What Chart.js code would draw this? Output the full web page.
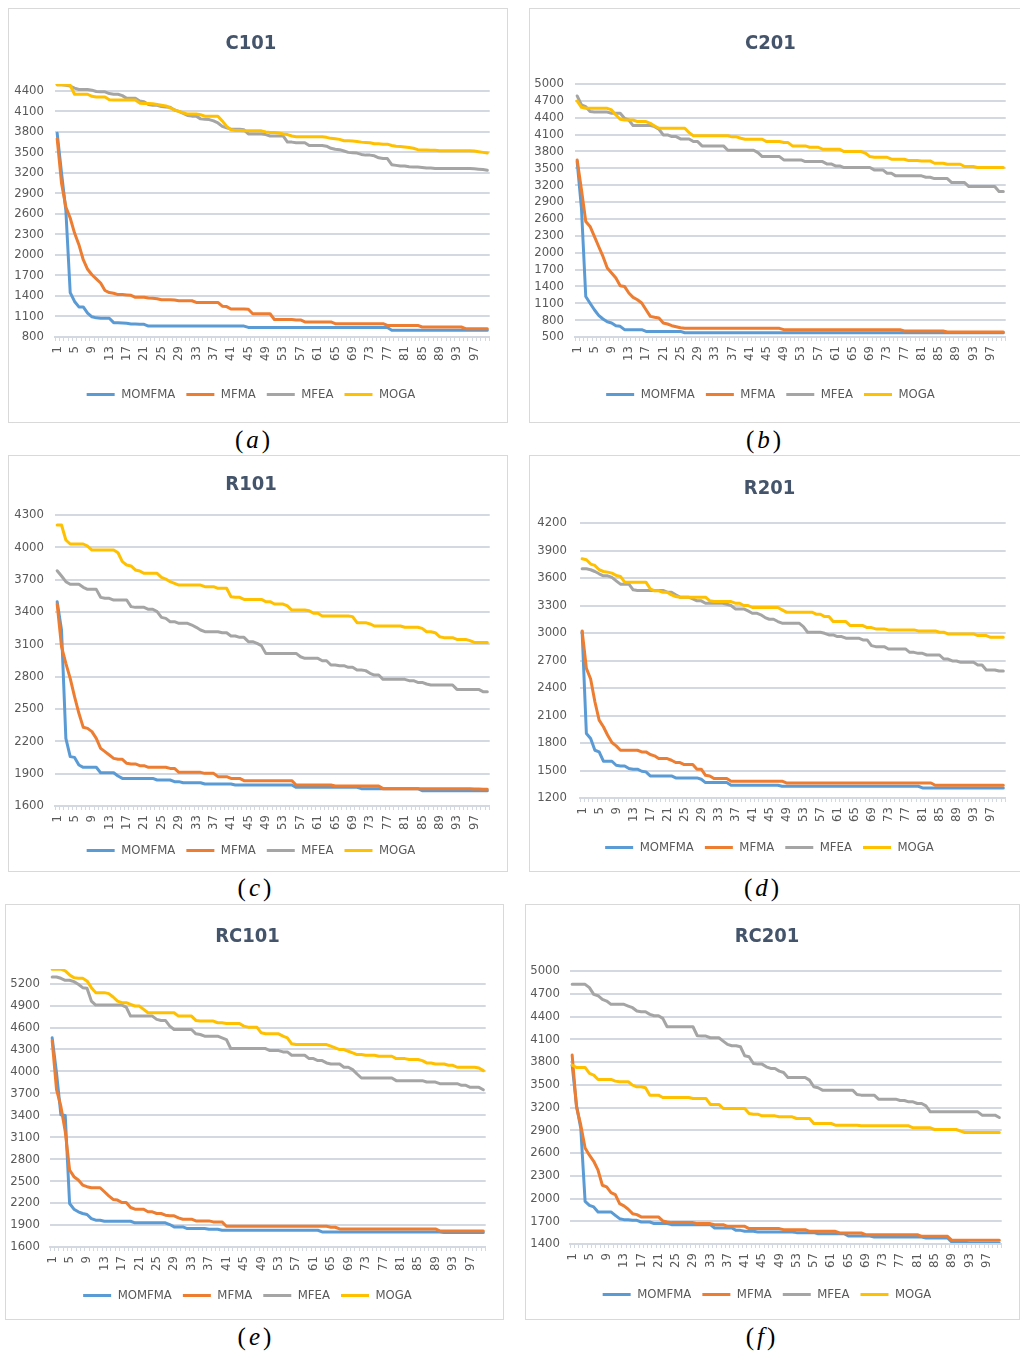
<!DOCTYPE html>
<html>
<head>
<meta charset="utf-8">
<title>MOMFMA vs MFMA vs MFEA vs MOGA</title>
<script src="https://cdn.jsdelivr.net/npm/chart.js@4.4.1/dist/chart.umd.min.js"></script>
<style>
  html, body { margin: 0; padding: 0; background: #fff; }
  #page { position: relative; width: 1020px; height: 1357px; overflow: hidden; background: #fff; }
  .box { position: absolute; border: 1px solid #d9d9d9; box-sizing: border-box; }
  canvas { position: absolute; }
  .cap { position: absolute; width: 100px; text-align: center; font-family: 'Liberation Serif', 'DejaVu Serif', serif;
         font-size: 25px; line-height: 30px; color: #000; letter-spacing: 3px; }
</style>
</head>
<body>
<div id="page">
  <div class="box" style="left:8px;top:8px;width:500px;height:415px"></div>
  <div class="box" style="left:529px;top:8px;width:495px;height:415px"></div>
  <div class="box" style="left:8px;top:455px;width:500px;height:417px"></div>
  <div class="box" style="left:529px;top:455px;width:495px;height:417px"></div>
  <div class="box" style="left:5px;top:904px;width:499px;height:416px"></div>
  <div class="box" style="left:525px;top:904px;width:495px;height:416px"></div>

  <canvas id="chA" width="500" height="415" style="left:8px;top:8px"></canvas>
  <canvas id="chB" width="495" height="415" style="left:529px;top:8px"></canvas>
  <canvas id="chC" width="500" height="417" style="left:8px;top:455px"></canvas>
  <canvas id="chD" width="495" height="417" style="left:529px;top:455px"></canvas>
  <canvas id="chE" width="499" height="416" style="left:5px;top:904px"></canvas>
  <canvas id="chF" width="495" height="416" style="left:525px;top:904px"></canvas>

  <div class="cap" style="left:204px;top:425px">(<i>a</i>)</div>
  <div class="cap" style="left:715px;top:425px">(<i>b</i>)</div>
  <div class="cap" style="left:206px;top:873px">(<i>c</i>)</div>
  <div class="cap" style="left:713px;top:873px">(<i>d</i>)</div>
  <div class="cap" style="left:206px;top:1322px">(<i>e</i>)</div>
  <div class="cap" style="left:712px;top:1322px">(<i>f</i>)</div>
</div>
<script>
// iteration index shared by all six charts
var categories = [1,2,3,4,5,6,7,8,9,10,11,12,13,14,15,16,17,18,19,20,
  21,22,23,24,25,26,27,28,29,30,31,32,33,34,35,36,37,38,39,40,
  41,42,43,44,45,46,47,48,49,50,51,52,53,54,55,56,57,58,59,60,
  61,62,63,64,65,66,67,68,69,70,71,72,73,74,75,76,77,78,79,80,
  81,82,83,84,85,86,87,88,89,90,91,92,93,94,95,96,97,98,99,100];

var seriesNames = ['MOMFMA', 'MFMA', 'MFEA', 'MOGA'];

// y axis range [min, max] and the tick labels shown
var c101Range = [800, 4500];
var c101Ticks = [800,1100,1400,1700,2000,2300,2600,2900,3200,3500,3800,4100,4400];
var c201Range = [500, 5000];
var c201Ticks = [500,800,1100,1400,1700,2000,2300,2600,2900,3200,3500,3800,4100,4400,4700,5000];
var r101Range = [1600, 4300];
var r101Ticks = [1600,1900,2200,2500,2800,3100,3400,3700,4000,4300];
var r201Range = [1200, 4200];
var r201Ticks = [1200,1500,1800,2100,2400,2700,3000,3300,3600,3900,4200];
var rc101Range = [1600, 5400];
var rc101Ticks = [1600,1900,2200,2500,2800,3100,3400,3700,4000,4300,4600,4900,5200];
var rc201Range = [1400, 5000];
var rc201Ticks = [1400,1700,2000,2300,2600,2900,3200,3500,3800,4100,4400,4700,5000];

// ---- C101 ----
var c101Momfma = [3780,3200,2650,1450,1320,1240,1240,1150,1095,1080,
  1075,1075,1075,1010,1010,1005,1000,990,990,985,
  985,960,960,960,960,960,960,960,960,960,
  960,960,960,960,960,960,960,960,960,960,
  960,960,960,960,940,940,940,940,940,940,
  940,940,940,940,940,940,940,940,940,940,
  940,940,940,940,940,940,940,940,940,940,
  940,940,940,940,940,940,940,900,900,900,
  900,900,900,900,900,900,900,900,900,900,
  900,900,900,900,900,900,900,900,900,900];
var c101Mfma = [3700,3050,2700,2540,2320,2150,1930,1790,1710,1650,
  1590,1480,1450,1440,1420,1420,1415,1410,1380,1380,
  1380,1370,1365,1360,1345,1345,1345,1340,1330,1330,
  1330,1330,1305,1305,1305,1305,1305,1305,1250,1245,
  1210,1210,1210,1210,1205,1140,1140,1140,1140,1140,
  1055,1055,1055,1055,1055,1050,1050,1020,1020,1020,
  1020,1020,1020,1020,995,995,995,995,995,995,
  995,995,995,995,995,995,970,970,970,970,
  970,970,970,970,946,946,946,946,946,946,
  946,946,946,946,922,922,922,922,922,922];
var c101Mfea = [4490,4490,4480,4470,4440,4420,4420,4420,4410,4390,
  4385,4385,4360,4350,4350,4330,4290,4290,4290,4250,
  4240,4200,4190,4190,4170,4165,4160,4120,4100,4070,
  4040,4030,4030,3990,3985,3980,3960,3930,3880,3860,
  3840,3840,3840,3830,3770,3770,3770,3770,3760,3740,
  3740,3740,3740,3650,3650,3640,3640,3640,3600,3600,
  3600,3600,3590,3560,3545,3540,3520,3500,3495,3490,
  3470,3460,3460,3450,3420,3410,3410,3320,3310,3300,
  3300,3290,3285,3285,3280,3270,3270,3265,3265,3265,
  3265,3265,3265,3265,3265,3265,3260,3255,3250,3240];
var c101Moga = [4490,4490,4490,4480,4350,4350,4350,4350,4320,4310,
  4310,4310,4270,4265,4265,4265,4265,4265,4265,4220,
  4215,4215,4210,4200,4190,4180,4150,4120,4100,4080,
  4060,4060,4060,4050,4030,4030,4030,4030,3960,3880,
  3830,3820,3820,3815,3815,3815,3815,3815,3800,3790,
  3790,3785,3770,3760,3740,3730,3730,3730,3730,3730,
  3730,3730,3720,3705,3700,3690,3670,3670,3665,3660,
  3650,3645,3640,3625,3625,3620,3620,3600,3590,3585,
  3580,3570,3560,3540,3535,3535,3530,3530,3525,3525,
  3525,3525,3525,3525,3525,3525,3520,3510,3500,3490];

// ---- C201 ----
var c201Momfma = [3620,2790,1220,1100,985,885,820,770,750,700,
  690,630,630,630,630,630,600,600,600,600,
  600,600,600,600,600,575,575,575,575,575,
  575,575,575,575,575,575,575,575,575,575,
  575,575,575,575,575,575,575,575,575,575,
  575,575,575,575,575,575,575,575,575,575,
  575,575,575,575,575,575,575,575,575,575,
  575,575,575,575,575,575,575,575,575,575,
  575,575,575,575,575,575,575,575,575,575,
  575,575,575,575,575,575,575,575,575,575];
var c201Mfma = [3650,3120,2555,2466,2290,2110,1933,1726,1637,1548,
  1412,1400,1282,1205,1163,1104,985,867,850,838,
  749,731,701,683,666,654,654,654,654,654,
  654,654,654,654,654,654,654,654,654,654,
  654,654,654,654,654,654,654,654,630,630,
  630,630,630,630,630,630,630,630,630,630,
  630,630,630,630,630,630,630,630,630,630,
  630,630,630,630,630,630,607,607,607,607,
  607,607,607,607,607,607,589,589,589,589,
  589,589,589,589,589,589,589,589,589,589];
var c201Mfea = [4787,4627,4597,4509,4500,4500,4500,4500,4479,4479,
  4479,4390,4360,4260,4260,4260,4260,4260,4242,4195,
  4094,4094,4064,4064,4023,4023,4023,3976,3976,3899,
  3899,3899,3899,3899,3899,3822,3822,3822,3822,3822,
  3822,3822,3780,3709,3709,3709,3709,3709,3650,3650,
  3650,3650,3650,3620,3620,3620,3620,3620,3579,3579,
  3543,3543,3514,3514,3514,3514,3514,3514,3514,3472,
  3472,3472,3413,3413,3366,3366,3366,3366,3366,3366,
  3366,3342,3342,3318,3318,3318,3318,3247,3247,3247,
  3247,3176,3176,3176,3176,3176,3176,3176,3087,3087];
var c201Moga = [4698,4585,4568,4568,4568,4568,4568,4568,4538,4449,
  4372,4360,4360,4360,4331,4331,4331,4301,4254,4212,
  4212,4212,4212,4212,4212,4212,4135,4080,4080,4080,
  4080,4080,4080,4080,4080,4080,4060,4060,4035,4017,
  4017,4017,4017,4017,3976,3976,3976,3976,3958,3958,
  3899,3899,3899,3899,3875,3875,3875,3840,3840,3840,
  3840,3840,3798,3798,3798,3798,3798,3768,3709,3697,
  3697,3697,3697,3662,3662,3662,3662,3638,3638,3638,
  3632,3632,3632,3591,3591,3591,3573,3573,3573,3573,
  3532,3532,3532,3514,3514,3514,3514,3514,3514,3514];

// ---- R101 ----
var r101Momfma = [3496,3233,2228,2058,2051,1980,1959,1959,1959,1959,
  1909,1909,1909,1909,1878,1856,1856,1856,1856,1856,
  1856,1856,1856,1841,1841,1841,1841,1826,1826,1816,
  1816,1816,1816,1816,1804,1804,1804,1804,1804,1804,
  1804,1795,1795,1795,1795,1795,1795,1795,1795,1795,
  1795,1795,1795,1795,1795,1773,1773,1773,1773,1773,
  1773,1773,1773,1773,1773,1773,1773,1773,1773,1773,
  1761,1761,1761,1761,1761,1761,1761,1761,1761,1761,
  1761,1761,1761,1761,1742,1742,1742,1742,1742,1742,
  1742,1742,1742,1742,1742,1742,1742,1742,1742,1742];
var r101Mfma = [3474,3078,2924,2784,2614,2460,2330,2320,2290,2228,
  2135,2104,2073,2042,2033,2033,1996,1990,1990,1974,
  1974,1959,1959,1959,1959,1959,1949,1949,1912,1912,
  1912,1912,1912,1912,1903,1903,1903,1872,1872,1872,
  1856,1856,1856,1835,1835,1835,1835,1835,1835,1835,
  1835,1835,1835,1835,1835,1795,1795,1795,1795,1795,
  1795,1795,1795,1795,1785,1785,1785,1785,1785,1785,
  1785,1785,1785,1785,1785,1761,1761,1761,1761,1761,
  1761,1761,1761,1761,1761,1761,1761,1761,1761,1761,
  1761,1761,1761,1761,1761,1761,1758,1758,1755,1755];
var r101Mfea = [3783,3734,3681,3657,3657,3657,3629,3610,3610,3610,
  3536,3527,3527,3511,3511,3511,3511,3450,3443,3443,
  3443,3425,3425,3403,3350,3341,3310,3310,3295,3295,
  3295,3279,3258,3233,3217,3217,3217,3217,3208,3208,
  3177,3177,3165,3165,3125,3125,3109,3088,3016,3016,
  3016,3016,3016,3016,3016,3016,2985,2970,2970,2970,
  2970,2948,2948,2908,2908,2902,2902,2887,2887,2862,
  2862,2856,2831,2815,2815,2775,2775,2775,2775,2775,
  2775,2763,2763,2747,2747,2732,2723,2723,2723,2723,
  2723,2723,2682,2682,2682,2682,2682,2682,2661,2661];
var r101Moga = [4207,4207,4068,4031,4031,4031,4031,4012,3975,3975,
  3975,3975,3975,3975,3950,3867,3836,3827,3790,3780,
  3759,3759,3759,3759,3722,3706,3681,3666,3650,3650,
  3650,3650,3650,3650,3635,3635,3635,3620,3620,3620,
  3542,3536,3536,3517,3517,3517,3517,3517,3496,3496,
  3474,3474,3474,3456,3418,3418,3418,3418,3412,3388,
  3388,3363,3363,3363,3363,3363,3363,3363,3357,3301,
  3301,3301,3289,3270,3270,3270,3270,3270,3270,3270,
  3258,3258,3258,3258,3248,3217,3217,3208,3171,3162,
  3162,3162,3146,3146,3146,3134,3118,3118,3118,3118];

// ---- R201 ----
var r201Momfma = [3015,1904,1849,1721,1703,1601,1601,1601,1557,1550,
  1550,1521,1514,1514,1492,1485,1441,1441,1441,1441,
  1441,1441,1419,1419,1419,1419,1419,1419,1404,1368,
  1368,1368,1368,1368,1368,1339,1339,1339,1339,1339,
  1339,1339,1339,1339,1339,1339,1339,1328,1328,1328,
  1328,1328,1328,1328,1328,1328,1328,1328,1328,1328,
  1328,1328,1328,1328,1328,1328,1328,1328,1328,1328,
  1328,1328,1328,1328,1328,1328,1328,1328,1328,1328,
  1310,1310,1310,1310,1310,1310,1310,1310,1310,1310,
  1310,1310,1310,1310,1310,1310,1310,1310,1310,1310];
var r201Mfma = [3023,2614,2498,2250,2049,1977,1885,1805,1769,1721,
  1721,1721,1721,1721,1703,1703,1674,1660,1630,1630,
  1630,1612,1587,1587,1565,1565,1565,1514,1514,1448,
  1441,1412,1412,1412,1412,1383,1383,1383,1383,1383,
  1383,1383,1383,1383,1383,1383,1383,1383,1364,1364,
  1364,1364,1364,1364,1364,1364,1364,1364,1364,1364,
  1364,1364,1364,1364,1364,1364,1364,1364,1364,1364,
  1364,1364,1364,1364,1364,1364,1364,1364,1364,1364,
  1364,1364,1364,1339,1339,1339,1339,1339,1339,1339,
  1339,1339,1339,1339,1339,1339,1339,1339,1339,1339];
var r201Mfea = [3701,3701,3690,3671,3646,3624,3624,3606,3569,3533,
  3533,3533,3471,3464,3464,3464,3464,3464,3464,3464,
  3445,3445,3416,3391,3391,3391,3373,3351,3351,3325,
  3325,3325,3325,3325,3314,3300,3263,3263,3263,3241,
  3216,3216,3198,3168,3150,3150,3125,3107,3107,3107,
  3107,3107,3070,3008,3008,3008,3008,2997,2979,2979,
  2961,2961,2943,2943,2943,2943,2924,2924,2862,2851,
  2851,2851,2826,2826,2826,2826,2826,2789,2789,2778,
  2778,2760,2760,2760,2760,2716,2716,2695,2695,2680,
  2680,2680,2680,2651,2651,2596,2596,2596,2585,2585];
var r201Moga = [3810,3799,3752,3737,3690,3671,3664,3653,3628,3617,
  3555,3555,3555,3555,3555,3555,3482,3460,3460,3445,
  3445,3416,3398,3391,3391,3391,3391,3391,3391,3391,
  3351,3343,3343,3343,3343,3343,3325,3325,3300,3300,
  3278,3278,3278,3278,3278,3278,3278,3252,3227,3227,
  3227,3227,3227,3227,3227,3205,3205,3179,3179,3125,
  3125,3125,3125,3081,3081,3081,3081,3059,3059,3045,
  3045,3045,3034,3034,3034,3034,3034,3034,3034,3023,
  3023,3023,3023,3023,3008,3008,2990,2990,2990,2990,
  2990,2990,2990,2972,2972,2972,2953,2953,2953,2953];

// ---- RC101 ----
var rc101Momfma = [4459,3979,3407,3398,2195,2117,2081,2058,2044,1989,
  1966,1966,1952,1952,1952,1952,1952,1952,1952,1930,
  1930,1930,1930,1930,1930,1930,1930,1907,1875,1875,
  1875,1852,1852,1852,1852,1852,1843,1843,1843,1829,
  1829,1829,1829,1829,1829,1829,1829,1829,1829,1829,
  1829,1829,1829,1829,1829,1829,1829,1829,1829,1829,
  1829,1829,1806,1806,1806,1806,1806,1806,1806,1806,
  1806,1806,1806,1806,1806,1806,1806,1806,1806,1806,
  1806,1806,1806,1806,1806,1806,1806,1806,1806,1806,
  1797,1797,1797,1797,1797,1797,1797,1797,1797,1797];
var rc101Mfma = [4422,3750,3521,3178,2652,2561,2515,2447,2424,2410,
  2410,2410,2355,2300,2250,2241,2209,2209,2140,2117,
  2117,2117,2081,2081,2058,2058,2035,2026,2026,1998,
  1980,1980,1980,1957,1957,1957,1957,1943,1943,1943,
  1884,1884,1884,1884,1884,1884,1884,1884,1884,1884,
  1884,1884,1884,1884,1884,1884,1884,1884,1884,1884,
  1884,1884,1884,1884,1870,1870,1847,1847,1847,1847,
  1847,1847,1847,1847,1847,1847,1847,1847,1847,1847,
  1847,1847,1847,1847,1847,1847,1847,1847,1847,1820,
  1820,1820,1820,1820,1820,1820,1820,1820,1820,1820];
var rc101Mfea = [5291,5291,5273,5246,5246,5227,5191,5145,5136,4962,
  4907,4907,4907,4907,4907,4907,4907,4880,4756,4756,
  4756,4756,4756,4756,4711,4697,4697,4619,4573,4573,
  4573,4573,4573,4514,4505,4482,4482,4482,4482,4459,
  4436,4313,4313,4313,4313,4313,4313,4313,4313,4313,
  4285,4285,4285,4267,4267,4221,4221,4221,4221,4175,
  4175,4148,4148,4116,4102,4102,4102,4057,4057,4025,
  3965,3910,3910,3910,3910,3910,3910,3910,3910,3874,
  3874,3874,3874,3874,3874,3874,3855,3855,3855,3832,
  3832,3832,3832,3832,3810,3810,3782,3782,3782,3750];
var rc101Moga = [5397,5397,5397,5374,5319,5282,5273,5273,5237,5145,
  5077,5077,5077,5063,5017,4962,4939,4939,4916,4894,
  4894,4848,4802,4802,4802,4802,4802,4802,4802,4756,
  4756,4756,4756,4697,4688,4688,4688,4688,4665,4665,
  4656,4656,4656,4656,4619,4605,4605,4605,4528,4514,
  4514,4514,4514,4482,4459,4377,4367,4367,4367,4367,
  4367,4367,4367,4367,4345,4322,4299,4299,4276,4253,
  4230,4230,4221,4221,4221,4207,4207,4207,4207,4175,
  4175,4175,4162,4162,4162,4148,4116,4116,4102,4102,
  4102,4084,4084,4057,4057,4057,4057,4057,4047,4011];

// ---- RC201 ----
var rc201Momfma = [3759,3231,2923,1963,1910,1889,1823,1823,1823,1823,
  1778,1734,1721,1721,1712,1712,1690,1690,1690,1669,
  1669,1669,1669,1655,1655,1655,1655,1655,1655,1655,
  1655,1655,1655,1611,1611,1611,1611,1611,1580,1580,
  1567,1567,1567,1558,1558,1558,1558,1558,1558,1558,
  1558,1558,1550,1550,1550,1550,1550,1536,1536,1536,
  1536,1536,1536,1536,1506,1506,1506,1506,1506,1506,
  1492,1492,1492,1492,1492,1492,1492,1492,1492,1492,
  1492,1492,1479,1479,1479,1479,1479,1479,1426,1426,
  1426,1426,1410,1410,1410,1410,1410,1410,1410,1410];
var rc201Mfma = [3891,3209,2967,2667,2571,2491,2373,2175,2153,2078,
  2051,1933,1902,1858,1800,1787,1757,1757,1757,1757,
  1757,1704,1691,1682,1682,1682,1682,1682,1682,1669,
  1669,1669,1669,1655,1655,1655,1633,1633,1633,1633,
  1633,1603,1603,1603,1603,1603,1603,1603,1603,1589,
  1589,1589,1589,1589,1589,1567,1567,1567,1567,1567,
  1567,1567,1545,1545,1545,1545,1545,1545,1523,1523,
  1523,1523,1523,1523,1523,1523,1523,1523,1523,1523,
  1523,1501,1501,1501,1501,1501,1501,1501,1448,1448,
  1448,1448,1448,1448,1448,1448,1448,1448,1448,1448];
var rc201Mfea = [4824,4824,4824,4824,4780,4692,4674,4626,4604,4560,
  4560,4560,4560,4538,4516,4472,4463,4463,4428,4410,
  4410,4375,4265,4265,4265,4265,4265,4265,4265,4146,
  4142,4142,4120,4120,4120,4076,4032,4014,4014,4001,
  3882,3869,3781,3772,3772,3737,3715,3715,3680,3662,
  3596,3596,3596,3596,3596,3561,3473,3460,3429,3429,
  3429,3429,3429,3429,3429,3429,3372,3363,3363,3363,
  3363,3310,3310,3310,3310,3310,3292,3292,3275,3275,
  3253,3253,3222,3143,3143,3143,3143,3143,3143,3143,
  3143,3143,3143,3143,3143,3099,3099,3099,3099,3068];
var rc201Moga = [3759,3728,3728,3728,3649,3627,3570,3570,3570,3570,
  3548,3539,3539,3539,3495,3473,3473,3460,3363,3363,
  3363,3332,3332,3332,3332,3332,3332,3332,3319,3319,
  3319,3319,3240,3240,3240,3187,3187,3187,3187,3187,
  3187,3121,3112,3112,3090,3090,3090,3090,3077,3077,
  3077,3077,3055,3055,3055,3055,2989,2989,2989,2989,
  2989,2967,2967,2967,2967,2967,2967,2958,2958,2958,
  2958,2958,2958,2958,2958,2958,2958,2958,2958,2932,
  2932,2932,2932,2932,2910,2910,2910,2910,2910,2910,
  2888,2870,2870,2870,2870,2870,2870,2870,2870,2870];

var colors = ['#5b9bd5', '#ed7d31', '#a5a5a5', '#ffc000'];
var narrow = "'DejaVu Sans Condensed', 'Liberation Sans Narrow', sans-serif";
var textGray = '#595959';
var gridGray = '#d4d8e0';

// horizontal gridlines at the y scale's ticks, painted just before the series
var gridUnder = {
  id: 'gridUnder',
  beforeDatasetsDraw: function(chart) {
    var ys = chart.scales.y, area = chart.chartArea, ctx = chart.ctx;
    ctx.save();
    ctx.fillStyle = gridGray;
    ys.ticks.forEach(function(t) {
      var py = Math.round(ys.getPixelForValue(t.value));
      ctx.fillRect(area.left, py - 1, area.right - area.left, 2);
    });
    ctx.restore();
  }
};

// lay: [width, height, titleY, plotLeft, plotTop, plotRight, plotBottom, legendY, labelGap]
function drawPanel(canvasId, title, series, range, ticks, lay) {
  var w = lay[0], h = lay[1], titleY = lay[2];
  var pl = lay[3], pt = lay[4], pr = lay[5], pb = lay[6], legendY = lay[7];
  var padL = 2;
  var titleLine = 20 * 1.2;

  var datasets = series.map(function(vals, i) {
    return {
      label: seriesNames[i],
      data: vals,
      borderColor: colors[i],
      backgroundColor: colors[i],
      borderWidth: 3,
      pointRadius: 0,
      pointHoverRadius: 0,
      tension: 0,
      fill: false,
      borderJoinStyle: 'round',
      borderCapStyle: 'round',
      order: 4 - i   // later series painted on top, as in Excel
    };
  });

  return new Chart(document.getElementById(canvasId), {
    type: 'line',
    data: { labels: categories, datasets: datasets },
    plugins: [gridUnder],
    options: {
      responsive: false,
      animation: false,
      devicePixelRatio: 1,
      layout: { padding: { left: padL, right: w - pr, top: 0, bottom: h - (legendY + 17) } },
      plugins: {
        tooltip: { enabled: false },
        title: {
          display: true,
          text: title,
          color: '#44546a',
          font: { family: narrow, size: 20, weight: 'bold' },
          padding: { top: titleY + 2 - titleLine / 2, bottom: pt - titleY - 2 - titleLine / 2 }
        },
        legend: {
          position: 'bottom',
          labels: {
            color: textGray,
            font: { family: narrow, size: 13 },
            boxWidth: 28,
            boxHeight: 3,
            padding: 11,
            sort: function(a, b) { return a.datasetIndex - b.datasetIndex; },
            generateLabels: function(chart) {
              var items = Chart.defaults.plugins.legend.labels.generateLabels(chart);
              items.forEach(function(it) { it.lineWidth = 0; });
              return items;
            }
          }
        }
      },
      scales: {
        x: {
          offset: true,
          grid: { display: true, drawOnChartArea: false, drawTicks: true, tickLength: 4, tickWidth: 1, tickColor: gridGray, lineWidth: 1, color: gridGray, offset: true, z: 1 },
          border: { display: true, color: gridGray, width: 2, z: 1 },
          ticks: {
            autoSkip: false,
            minRotation: 90,
            maxRotation: 90,
            padding: 5,
            color: textGray,
            font: { family: narrow, size: 13 },
            callback: function(v, idx) { return idx % 4 === 0 ? String(categories[idx]) : ''; }
          },
          afterFit: function(scale) { scale.height = (legendY - 17) - pb; }
        },
        y: {
          min: range[0],
          max: range[1],
          grid: { display: true, drawOnChartArea: true, color: gridGray, lineWidth: 2, drawTicks: false, z: 0 },
          border: { display: false },
          ticks: {
            autoSkip: false,
            padding: lay[8],
            color: textGray,
            font: { family: narrow, size: 13 },
            callback: function(v) { return String(v); }
          },
          afterBuildTicks: function(scale) {
            scale.ticks = ticks.map(function(v) { return { value: v }; });
          },
          afterFit: function(scale) { scale.width = pl - padL; }
        }
      }
    }
  });
}

drawPanel('chA', 'C101', [c101Momfma, c101Mfma, c101Mfea, c101Moga], c101Range, c101Ticks, [500, 415, 34, 47, 76, 484, 329, 386, 11]);
drawPanel('chB', 'C201', [c201Momfma, c201Mfma, c201Mfea, c201Moga], c201Range, c201Ticks, [495, 415, 34, 46, 76, 481, 329, 386, 11]);
drawPanel('chC', 'R101', [r101Momfma, r101Mfma, r101Mfea, r101Moga], r101Range, r101Ticks, [500, 417, 28, 47, 60, 484, 351, 395, 11]);
drawPanel('chD', 'R201', [r201Momfma, r201Mfma, r201Mfea, r201Moga], r201Range, r201Ticks, [495, 417, 32, 51, 68, 479, 343, 392, 13]);
drawPanel('chE', 'RC101', [rc101Momfma, rc101Mfma, rc101Mfea, rc101Moga], rc101Range, rc101Ticks, [499, 416, 31, 45, 65, 483, 343, 391, 10]);
drawPanel('chF', 'RC201', [rc201Momfma, rc201Mfma, rc201Mfea, rc201Moga], rc201Range, rc201Ticks, [495, 416, 31, 45, 67, 482, 340, 390, 10]);
</script>
</body>
</html>
